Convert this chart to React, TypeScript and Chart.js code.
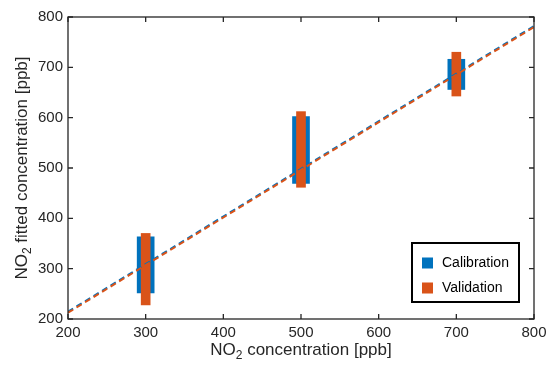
import React, { useEffect, useRef } from "react";
import { Chart, registerables } from "chart.js";

Chart.register(...registerables);

const xTicks = [200, 300, 400, 500, 600, 700, 800];
const yTicks = [200, 300, 400, 500, 600, 700, 800];
const concentrations = [300, 500, 700];
const calibrationLow = [251.7, 469.6, 656];
const calibrationHigh = [363.5, 602, 716];
const validationLow = [228, 461.7, 643];
const validationHigh = [370, 612, 730];
const fitX = [200, 800];
const calibrationFit = [214.5, 782];
const validationFit = [212.5, 780];
const seriesLabels = ["Calibration", "Validation"];

const BLUE = "#0072BD";
const ORANGE = "#D95319";
const AXIS = "#262626";
const FONT = "'Liberation Sans', Arial, Helvetica, sans-serif";

function subMetrics(ctx: CanvasRenderingContext2D, size: number) {
  const big = `${size}px ${FONT}`;
  const small = `${Math.round(size * 0.72)}px ${FONT}`;
  ctx.font = big;
  const w1 = ctx.measureText("NO").width;
  ctx.font = small;
  const w2 = ctx.measureText("2").width;
  return { big, small, w1, w2 };
}

const decorPlugin = {
  id: "decor",
  afterDraw(chart: any) {
    const ctx: CanvasRenderingContext2D = chart.ctx;
    const { left, right, top, bottom } = chart.chartArea;
    const xs = chart.scales.x;
    const ys = chart.scales.y;
    ctx.save();
    // box
    ctx.strokeStyle = AXIS;
    ctx.lineWidth = 1.3;
    ctx.strokeRect(left, top, right - left, bottom - top);
    // inward ticks
    const tl = 5;
    ctx.beginPath();
    xTicks.forEach((v) => {
      const px = xs.getPixelForValue(v);
      ctx.moveTo(px, bottom);
      ctx.lineTo(px, bottom - tl);
      ctx.moveTo(px, top);
      ctx.lineTo(px, top + tl);
    });
    yTicks.forEach((v) => {
      const py = ys.getPixelForValue(v);
      ctx.moveTo(left, py);
      ctx.lineTo(left + tl, py);
      ctx.moveTo(right, py);
      ctx.lineTo(right - tl, py);
    });
    ctx.stroke();

    // axis titles with subscript
    ctx.fillStyle = AXIS;
    ctx.textBaseline = "alphabetic";
    ctx.textAlign = "left";
    const size = 17;
    const rest = " concentration [ppb]";
    const restY = " fitted concentration [ppb]";
    {
      const m = subMetrics(ctx, size);
      ctx.font = m.big;
      const w3 = ctx.measureText(rest).width;
      const total = m.w1 + m.w2 + w3;
      const cx = (left + right) / 2;
      const base = 355;
      const x0 = cx - total / 2;
      ctx.font = m.big;
      ctx.fillText("NO", x0, base);
      ctx.font = m.small;
      ctx.fillText("2", x0 + m.w1, base + 4);
      ctx.font = m.big;
      ctx.fillText(rest, x0 + m.w1 + m.w2, base);
    }
    {
      const m = subMetrics(ctx, size);
      ctx.font = m.big;
      const w3 = ctx.measureText(restY).width;
      const total = m.w1 + m.w2 + w3;
      const cy = (top + bottom) / 2;
      ctx.save();
      ctx.translate(27, cy);
      ctx.rotate(-Math.PI / 2);
      const x0 = -total / 2;
      ctx.font = m.big;
      ctx.fillText("NO", x0, 0);
      ctx.font = m.small;
      ctx.fillText("2", x0 + m.w1, 4);
      ctx.font = m.big;
      ctx.fillText(restY, x0 + m.w1 + m.w2, 0);
      ctx.restore();
    }

    // legend
    const lx = 412, ly = 243, lw = 107, lh = 59;
    ctx.fillStyle = "#ffffff";
    ctx.fillRect(lx, ly, lw, lh);
    ctx.strokeStyle = "#000000";
    ctx.lineWidth = 2;
    ctx.strokeRect(lx, ly, lw, lh);
    const colors = [BLUE, ORANGE];
    ctx.font = `14px ${FONT}`;
    ctx.textBaseline = "middle";
    seriesLabels.forEach((lab, i) => {
      const yy = 263 + i * 25;
      ctx.fillStyle = colors[i];
      ctx.fillRect(422, yy - 5.5, 11, 11);
      ctx.fillStyle = "#000000";
      ctx.fillText(lab, 442, yy + 0.5);
    });
    ctx.restore();
  },
};

export default function App() {
  const ref = useRef<HTMLCanvasElement | null>(null);
  useEffect(() => {
    if (!ref.current) return;
    const tickFont = { family: FONT, size: 15 };
    const chart = new Chart(ref.current, {
      type: "bar",
      data: {
        datasets: [
          {
            type: "bar",
            label: seriesLabels[0],
            data: concentrations.map((x, i) => ({ x, y: [calibrationLow[i], calibrationHigh[i]] })) as any,
            backgroundColor: BLUE,
            barThickness: 17,
            grouped: false,
            order: 3,
          } as any,
          {
            type: "bar",
            label: seriesLabels[1],
            data: concentrations.map((x, i) => ({ x, y: [validationLow[i], validationHigh[i]] })) as any,
            backgroundColor: ORANGE,
            barThickness: 9,
            grouped: false,
            order: 2,
          } as any,
          {
            type: "line",
            label: "Calibration fit",
            data: fitX.map((x, i) => ({ x, y: calibrationFit[i] })),
            borderColor: BLUE,
            borderWidth: 2,
            borderDash: [6, 4],
            pointRadius: 0,
            fill: false,
            order: 1,
          } as any,
          {
            type: "line",
            label: "Validation fit",
            data: fitX.map((x, i) => ({ x, y: validationFit[i] })),
            borderColor: ORANGE,
            borderWidth: 2,
            borderDash: [6, 4],
            pointRadius: 0,
            fill: false,
            order: 0,
          } as any,
        ],
      },
      options: {
        responsive: false,
        animation: false,
        devicePixelRatio: 1,
        layout: { padding: { top: 17, right: 15, left: 0, bottom: 0 } },
        plugins: { legend: { display: false }, tooltip: { enabled: false } },
        scales: {
          x: {
            type: "linear",
            min: 200,
            max: 800,
            offset: false,
            grid: { display: false, drawTicks: false },
            border: { display: false },
            ticks: { font: tickFont, color: AXIS, padding: 5, maxRotation: 0, autoSkip: false },
            afterBuildTicks: (s: any) => {
              s.ticks = xTicks.map((v) => ({ value: v }));
            },
            afterFit: (s: any) => {
              s.height = 51;
              s.paddingLeft = 0;
              s.paddingRight = 0;
            },
          },
          y: {
            type: "linear",
            min: 200,
            max: 800,
            grid: { display: false, drawTicks: false },
            border: { display: false },
            ticks: { font: tickFont, color: AXIS, padding: 5, autoSkip: false },
            afterBuildTicks: (s: any) => {
              s.ticks = yTicks.map((v) => ({ value: v }));
            },
            afterFit: (s: any) => {
              s.width = 68;
              s.paddingTop = 0;
              s.paddingBottom = 0;
            },
          },
        } as any,
      },
      plugins: [decorPlugin],
    });
    return () => chart.destroy();
  }, []);
  return (
    <div style={{ position: "fixed", left: 0, top: 0, width: 549, height: 370, background: "#fff" }}>
      <canvas ref={ref} width={549} height={370} />
    </div>
  );
}
